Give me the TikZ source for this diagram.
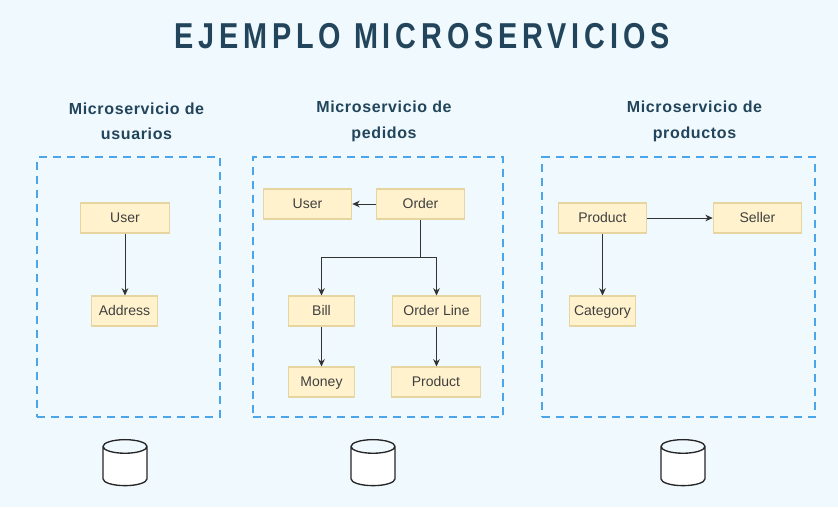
\documentclass[tikz,border=0pt]{standalone}
\usepackage{fontspec}
\setmainfont{Liberation Sans}
\newfontfamily\titlefont[LetterSpace=13.5,FakeStretch=0.8]{Liberation Sans Bold}
\newfontfamily\headfont[LetterSpace=4]{Liberation Sans Bold}
\usetikzlibrary{arrows.meta, shapes.geometric, positioning, calc}
\definecolor{msback}{HTML}{F0F9FE}
\definecolor{msnavy}{HTML}{22455B}
\definecolor{msblue}{HTML}{4AA6E8}
\definecolor{msfill}{HTML}{FFF2CC}
\definecolor{msedge}{HTML}{E6D5A0}
\definecolor{msline}{HTML}{333333}

\begin{document}
\begin{tikzpicture}[
    x=0.75pt,
    y=-0.75pt,
    entity/.style={
        rectangle,
        minimum width=66.5pt,
        minimum height=22.5pt,
        inner sep=0pt,
        draw=msedge,
        line width=0.8pt,
        fill=msfill,
        text=black!75,
        text height=8.5pt,
        text depth=1.5pt,
        font=\fontsize{10.5}{12}\selectfont
    },
    small/.style={
        entity,
        minimum width=50pt
    },
    service/.style={
        rectangle,
        draw=msblue,
        line width=1.5pt,
        dash pattern=on 6pt off 4.5pt
    },
    heading/.style={
        align=center,
        text=msnavy,
        font=\fontsize{12}{19}\selectfont\headfont
    },
    arrow/.style={
        -{Stealth[length=5.5pt,width=5pt]},
        line width=0.6pt,
        msline
    },
    database/.style={
        cylinder,
        shape border rotate=90,
        aspect=0.85,
        minimum width=33pt,
        minimum height=34.5pt,
        inner sep=6pt,
        draw=black!85,
        line width=1pt,
        cylinder uses custom fill,
        cylinder body fill=white,
        cylinder end fill=msback
    }
]

% Background
\fill[msback] (0,0) rectangle (838,507);
\useasboundingbox (0,0) rectangle (838,507);

% Title
\node[text=msnavy, font=\fontsize{27}{30}\selectfont\titlefont] (title) at (422,36) {EJEMPLO MICROSERVICIOS};

% Headings
\node[heading] (head1) at (136.5,121.5) {Microservicio de\\usuarios};
\node[heading] (head2) at (384,121.5) {Microservicio de\\pedidos};
\node[heading] (head3) at (694.5,121.5) {Microservicio de\\productos};

% Service boundaries
\node[service, minimum width=137pt, minimum height=195pt] (box1) at (128.5,287) {};
\node[service, minimum width=187.5pt, minimum height=195pt] (box2) at (378,287) {};
\node[service, minimum width=204.5pt, minimum height=195pt] (box3) at (678.5,287) {};

% Users
\node[entity] (user1) at (125,218) {User};
\node[small] (address) at (124.5,311) {Address};
\draw[arrow] (user1) -- (user1 |- address.north);

% Orders
\node[entity] (user2) at (307.5,204) {User};
\node[entity] (order) at (420.5,204) {Order};
\node[small] (bill) at (321.5,311) {Bill};
\node[entity] (orderline) at (436.5,311) {Order Line};
\node[small] (money) at (321.5,382) {Money};
\node[entity] (product2) at (436,382) {Product};
\coordinate (split) at (420.5,257);
\draw[arrow] (order) -- (user2);
\draw[line width=0.6pt, msline] (order) -- (split);
\draw[arrow] (split) -| (bill);
\draw[arrow] (split) -| (orderline);
\draw[arrow] (bill) -- (money);
\draw[arrow] (orderline) -- (orderline |- product2.north);

% Products
\node[entity] (product3) at (602.5,218) {Product};
\node[entity] (seller) at (757.5,218) {Seller};
\node[small] (category) at (602.5,311) {Category};
\draw[arrow] (product3) -- (seller);
\draw[arrow] (product3) -- (category);

% Databases
\node[database] (db1) at (125,469) {};
\node[database] (db2) at (373,469) {};
\node[database] (db3) at (683,469) {};

\end{tikzpicture}
\end{document}
